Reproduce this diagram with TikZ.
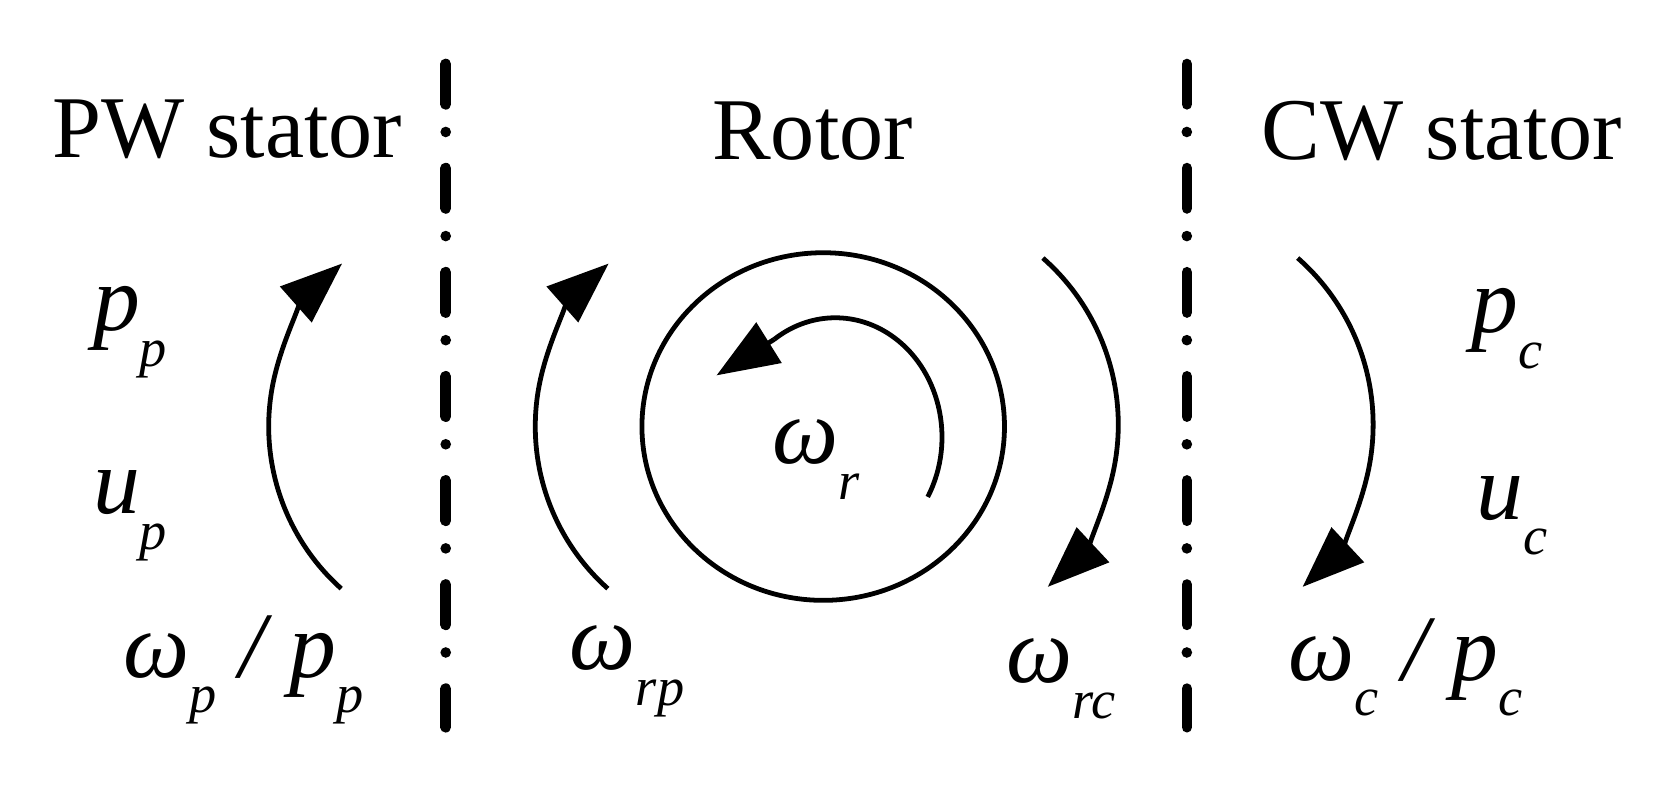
\documentclass[tikz,border=0pt]{standalone}
\usepackage{fontspec}
\setmainfont{Liberation Serif}
\usetikzlibrary{arrows.meta,shapes.geometric}
\newcommand\lsub[1]{\raisebox{-0.38em}{\fontsize{29}{29}\selectfont\itshape #1}}
\begin{document}
\begin{tikzpicture}[x=0.02cm,y=-0.02cm,
  txt/.style={anchor=base,inner sep=0pt,font=\fontsize{47}{47}\selectfont},
  mth/.style={txt,font=\fontsize{50}{50}\selectfont\itshape},
  sep/.style={line width=10*0.567pt,line cap=round,dash pattern=on 38*0.567pt off 26*0.567pt on 0pt off 34*0.567pt},
  arr/.style={line width=4.5*0.567pt,-{Triangle[length=33pt,width=25pt]}},
  ln/.style={line width=4.5*0.567pt}]
\useasboundingbox (0,0) rectangle (1568,737);
% separators
\draw[sep] (418,60) coordinate (s1a) -- (418,682) coordinate (s1b);
\draw[sep] (1113,60) coordinate (s2a) -- (1113,682) coordinate (s2b);
% titles
\node[txt] (t1) at (213,148) {PW stator};
\node[txt] (t2) at (762,150) {Rotor};
\node[txt] (t3) at (1352,150) {CW stator};
% left labels
\node[mth] (pp) at (122,310) {p\lsub{p}};
\node[mth] (up) at (122,482) {u\lsub{p}};
\node[mth] (wp) at (228,635) {ω\lsub{p} / p\lsub{p}};
% right labels
\node[mth] (pc) at (1413,312) {p\lsub{c}};
\node[mth] (uc) at (1418,487) {u\lsub{c}};
\node[mth] (wc) at (1318,638) {ω\lsub{c} / p\lsub{c}};
% rotor labels
\node[mth] (wrp) at (588,628) {ω\lsub{rp}};
\node[mth] (wrc) at (995,640) {ω\lsub{rc}};
\node[mth] (wr) at (765,435) {ω\lsub{r}};
% arcs
\draw[arr] (320,552) arc[start angle=131.8,end angle=228.5,radius=204];
\draw[arr] (570,552) arc[start angle=131.8,end angle=228.5,radius=204];
\draw[arr] (978,242) arc[start angle=-48.7,end angle=47,radius=208];
\draw[arr] (1217,242) arc[start angle=-48.7,end angle=47,radius=208];
% rotor circle
\node[draw,ln,ellipse,minimum width=340*0.02cm,minimum height=326*0.02cm,inner sep=0pt] (rot) at (772,400) {};
% inner arc
\draw[ln] (870,466) arc[start angle=30,end angle=-125,x radius=100,y radius=112] coordinate (ie);
\draw[arr] (ie) -- (672,352);
\end{tikzpicture}
\end{document}
